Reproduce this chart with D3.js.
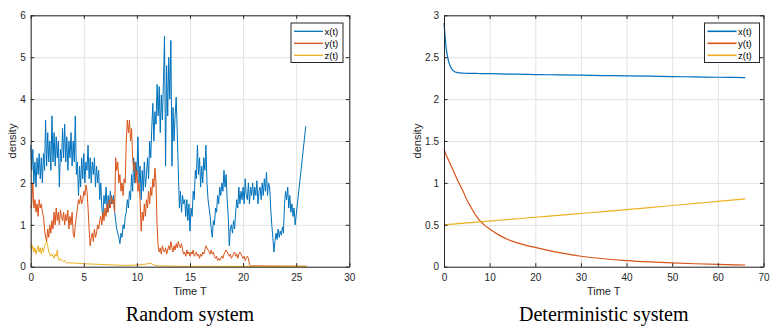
<!DOCTYPE html>
<html>
<head>
<script src="https://cdnjs.cloudflare.com/ajax/libs/d3/7.8.5/d3.min.js"></script>
<style>
  body { margin: 0; background: #fff; }
  svg { display: block; }
  .tick text { font-family: Arial, "Liberation Sans", sans-serif; font-size: 10px; fill: #262626; }
  .grid line { stroke: #e3e3e3; stroke-width: 1; }
  .grid path { display: none; }
  .frame path, .frame line { stroke: #262626; }
  .lbl { font-family: Arial, "Liberation Sans", sans-serif; font-size: 11px; fill: #262626; }
  .caption { font-family: "Liberation Serif", "Times New Roman", serif; font-size: 20px; fill: #000; }
  .legend text { font-family: Arial, "Liberation Sans", sans-serif; font-size: 9.5px; fill: #000; }
</style>
</head>
<body>
<div id="chart"></div>
<script>
// ---- data: random system (sampled every T_STEP from t = 0, then a few tail points) ----
const T_STEP = 0.1;
const xRand = [
  2.9, 2.3, 2.8, 2.0, 2.5, 1.9, 2.6, 2.2, 2.7, 2.1,
  2.6, 2.0, 2.7, 2.3, 3.5, 2.4, 3.2, 2.5, 3.0, 2.3,
  3.6, 2.5, 3.2, 2.4, 3.1, 2.6, 3.0, 1.9, 2.8, 2.5,
  3.3, 2.6, 3.4, 2.5, 3.1, 2.3, 3.0, 2.6, 3.2, 2.4,
  3.0, 2.5, 3.6, 2.2, 2.5, 1.7, 2.4, 1.9, 2.6, 2.1,
  2.7, 2.0, 2.5, 2.3, 2.9, 2.1, 2.6, 2.0, 2.5, 2.2,
  2.6, 1.9, 2.4, 2.0, 2.3, 1.6, 2.0, 1.4, 1.2, 1.7,
  1.5, 1.9, 1.3, 1.7, 1.4, 1.8, 1.5, 1.6, 1.7, 1.3,
  1.1, 0.9, 0.8, 0.7, 0.55, 0.8, 0.7, 1.0, 0.9, 1.2,
  1.3, 1.6, 1.4, 1.8, 1.6, 2.2, 1.8, 2.6, 2.0, 2.5,
  2.2, 3.1, 2.0, 2.4, 1.6, 2.3, 1.8, 2.5, 1.9, 2.2,
  2.6, 2.1, 3.0, 2.6, 3.3, 3.9, 3.0, 3.7, 3.4, 4.35,
  3.6, 4.3, 3.2, 4.1, 3.5, 4.4, 5.5, 2.4, 4.8, 3.6,
  5.0, 4.0, 5.4, 2.4, 3.8, 3.0, 3.6, 4.05, 3.2, 2.3,
  1.4, 1.8, 1.3, 1.7, 1.5, 1.6, 1.2, 1.6, 1.1, 1.5,
  0.85, 1.4, 1.2, 1.8, 1.6, 2.3, 2.1, 2.9, 2.2, 2.6,
  1.9, 2.4, 2.0, 2.6, 2.3, 2.9, 2.0, 1.6, 1.4, 1.2,
  0.9, 0.7, 1.1, 1.0, 1.4, 1.3, 1.7, 1.5, 1.9, 1.7,
  2.0, 1.8, 2.3, 1.9, 2.2, 1.6, 1.2, 0.5, 0.9, 1.0,
  0.8, 1.1, 0.9, 1.3, 1.6, 1.4, 1.9, 1.5, 1.8, 1.6,
  1.9, 1.5, 2.1, 1.7, 1.6, 2.0, 1.5, 1.9, 1.7, 2.0,
  1.6, 1.9, 1.7, 2.05, 1.5, 1.8, 1.9, 1.6, 2.0, 1.7,
  2.1, 1.8, 2.25, 1.7, 2.0, 1.9, 1.4, 1.0, 0.7, 0.35,
  0.6, 0.8, 0.65, 0.9, 0.7, 0.85, 0.75, 0.95, 0.8, 1.5,
  1.8, 1.6, 1.9, 1.4, 1.7, 1.3, 1.5, 1.2, 1.4, 1.0
];
const xRandTail = [[25.9, 3.35]];

const yRand = [
  1.4, 1.5, 2.0, 1.4, 1.6, 1.3, 1.5, 1.2, 1.6, 1.4,
  1.5, 1.3, 1.2, 0.9, 0.7, 0.6, 0.9, 0.7, 1.0, 0.8,
  1.1, 0.9, 1.3, 1.0, 1.4, 1.1, 1.3, 1.0, 1.35, 1.2,
  1.1, 1.3, 1.0, 1.25, 1.1, 1.35, 0.9, 1.2, 1.0, 1.3,
  0.8, 0.7, 1.0, 1.2, 1.4, 1.6, 1.5, 1.7, 1.5, 1.6,
  1.8, 1.7, 1.95, 1.8, 1.4, 0.9, 0.5, 0.7, 0.8, 0.6,
  0.9, 0.7, 0.8, 1.0, 0.9, 1.1, 1.2, 1.0, 1.3, 1.1,
  1.4, 1.2, 1.5, 1.3, 1.6, 1.4, 1.7, 1.5, 1.6, 1.3,
  2.6, 2.3, 2.5, 2.0, 2.2, 1.8, 2.0, 1.7, 2.1, 2.0,
  3.0, 3.5, 3.2, 3.5, 3.0, 3.3, 2.6, 2.3, 2.5, 2.0,
  2.3, 1.8, 2.0, 1.6, 0.85, 1.3, 1.1, 1.5, 1.2, 1.6,
  1.4, 1.8, 1.5, 1.9, 1.7, 2.1, 1.9, 2.35, 2.0, 1.0,
  0.5, 0.35, 0.45, 0.3, 0.5, 0.4, 0.35, 0.45, 0.3, 0.4,
  0.5, 0.4, 0.6, 0.45, 0.35, 0.5, 0.4, 0.55, 0.45, 0.6,
  0.5, 0.45, 0.55, 0.4, 0.3, 0.35, 0.25, 0.4, 0.3, 0.35,
  0.25, 0.35, 0.3, 0.4, 0.25, 0.3, 0.35, 0.25, 0.3, 0.2,
  0.3, 0.25, 0.35, 0.3, 0.4, 0.5, 0.45, 0.4, 0.35, 0.3,
  0.4, 0.3, 0.35, 0.25, 0.2, 0.25, 0.15, 0.2, 0.15, 0.2,
  0.25, 0.2, 0.3, 0.35, 0.4, 0.35, 0.3, 0.25, 0.3, 0.2,
  0.25, 0.3, 0.35, 0.25, 0.3, 0.2, 0.3, 0.35, 0.3, 0.25,
  0.2, 0.25, 0.15, 0.2, 0.25, 0.2, 0.05, 0.02, 0.02, 0.02
];
const yRandTail = [[23.0, 0.015], [26.0, 0.01]];

const zRand = [
  0.55, 0.4, 0.5, 0.35, 0.45, 0.3, 0.4, 0.5, 0.35, 0.45,
  0.3, 0.45, 0.35, 0.5, 0.55, 0.6, 0.5, 0.35, 0.3, 0.25,
  0.3, 0.25, 0.2, 0.3, 0.25, 0.4, 0.2, 0.15, 0.2, 0.15,
  0.15, 0.12, 0.15, 0.1, 0.08, 0.1, 0.09, 0.1, 0.08, 0.09
];
const zRandTail = [[5, 0.07], [6, 0.06], [7, 0.05], [8, 0.04], [9, 0.03], [10, 0.04],
  [10.8, 0.06], [11.3, 0.08], [11.6, 0.04], [12, 0.02], [14, 0.01], [26, 0.005]];

// ---- data: deterministic system ----
const tDet = [0, 0.5, 1, 1.5, 2, 3, 4, 5, 6, 7, 8, 9, 10, 12, 14, 16, 18, 20, 25, 30, 35, 40, 45, 50, 55, 60, 66];
const xDet = [2.91, 2.60, 2.45, 2.38, 2.34, 2.315, 2.31, 2.308, 2.307, 2.306, 2.305, 2.304, 2.303, 2.301,
  2.299, 2.297, 2.295, 2.293, 2.289, 2.285, 2.281, 2.277, 2.273, 2.269, 2.265, 2.261, 2.256];
const yDet = [1.40, 1.33, 1.27, 1.21, 1.15, 1.03, 0.92, 0.80, 0.70, 0.61, 0.54, 0.49, 0.45, 0.38,
  0.325, 0.285, 0.255, 0.23, 0.17, 0.125, 0.095, 0.073, 0.057, 0.045, 0.035, 0.027, 0.02];
const zDet = [0.50, 0.502, 0.505, 0.507, 0.509, 0.514, 0.518, 0.523, 0.527, 0.532, 0.536, 0.541, 0.545,
  0.554, 0.563, 0.572, 0.581, 0.59, 0.612, 0.635, 0.658, 0.681, 0.705, 0.73, 0.755, 0.78, 0.81];

const seriesNames = ["x(t)", "y(t)", "z(t)"];
const colors = ["#0072BD", "#D95319", "#EDB120"];
const xTicksRand = [0, 5, 10, 15, 20, 25, 30];
const yTicksRand = [0, 1, 2, 3, 4, 5, 6];
const xTicksDet = [0, 10, 20, 30, 40, 50, 60, 70];
const yTicksDet = [0, 0.5, 1, 1.5, 2, 2.5, 3];

const width = 778, height = 330;
const svg = d3.select("#chart").append("svg")
  .attr("width", width).attr("height", height);

function sampled(values, tail) {
  return values.map((v, i) => [i * T_STEP, v]).concat(tail);
}

function drawPanel(opt) {
  const { left, right, top, bottom } = opt;
  const w = right - left, h = bottom - top;
  const g = svg.append("g").attr("transform", `translate(${left},${top})`);
  const x = d3.scaleLinear().domain(opt.xDomain).range([0, w]);
  const y = d3.scaleLinear().domain(opt.yDomain).range([h, 0]);

  // grid
  g.append("g").attr("class", "grid").attr("transform", `translate(0,${h})`)
    .call(d3.axisBottom(x).tickValues(opt.xTicks).tickSize(-h).tickFormat(""));
  g.append("g").attr("class", "grid")
    .call(d3.axisLeft(y).tickValues(opt.yTicks).tickSize(-w).tickFormat(""));

  // lines
  const line = d3.line().x(d => x(d[0])).y(d => y(d[1]));
  if (opt.curve) line.curve(opt.curve);
  opt.series.forEach((s, i) => {
    g.append("path").datum(s)
      .attr("fill", "none")
      .attr("stroke", colors[i])
      .attr("stroke-width", opt.lineWidth)
      .attr("stroke-linejoin", "round")
      .attr("d", line);
  });

  // frame with inward ticks on all four sides
  const fmt = d3.format("~g");
  g.append("g").attr("class", "frame").attr("transform", `translate(0,${h})`)
    .call(d3.axisBottom(x).tickValues(opt.xTicks).tickSizeInner(-3.5).tickSizeOuter(0).tickPadding(7).tickFormat(fmt));
  g.append("g").attr("class", "frame")
    .call(d3.axisLeft(y).tickValues(opt.yTicks).tickSizeInner(-3.5).tickSizeOuter(0).tickPadding(5).tickFormat(fmt));
  g.append("g").attr("class", "frame")
    .call(d3.axisTop(x).tickValues(opt.xTicks).tickSizeInner(-3.5).tickSizeOuter(0).tickFormat(""));
  g.append("g").attr("class", "frame").attr("transform", `translate(${w},0)`)
    .call(d3.axisRight(y).tickValues(opt.yTicks).tickSizeInner(-3.5).tickSizeOuter(0).tickFormat(""));

  // axis labels
  g.append("text").attr("class", "lbl")
    .attr("x", w / 2).attr("y", h + 28)
    .attr("text-anchor", "middle").text("Time T");
  g.append("text").attr("class", "lbl")
    .attr("transform", `translate(${opt.yLabelX - left},${h / 2}) rotate(-90)`)
    .attr("text-anchor", "middle").text("density");

  // legend
  const lg = g.append("g").attr("class", "legend")
    .attr("transform", `translate(${opt.legendX - left},${23 - top})`);
  lg.append("rect").attr("width", opt.legendW).attr("height", 39.5)
    .attr("fill", "#fff").attr("stroke", "#262626").attr("stroke-width", 1);
  seriesNames.forEach((name, i) => {
    const ly = 8.3 + i * 12;
    lg.append("line").attr("x1", 3).attr("x2", 32).attr("y1", ly).attr("y2", ly)
      .attr("stroke", colors[i]).attr("stroke-width", opt.legendLineWidth);
    lg.append("text").attr("x", 33.5).attr("y", ly + 3.4).text(name);
  });

  // caption
  svg.append("text").attr("class", "caption")
    .attr("x", left + w / 2).attr("y", 320.5)
    .attr("text-anchor", "middle").text(opt.caption);
}

drawPanel({
  left: 30.7, right: 349.3, top: 15.3, bottom: 266.7,
  xDomain: [0, 30], yDomain: [0, 6],
  xTicks: xTicksRand, yTicks: yTicksRand,
  series: [sampled(xRand, xRandTail), sampled(yRand, yRandTail), sampled(zRand, zRandTail)],
  lineWidth: 1, legendLineWidth: 1.3,
  yLabelX: 15.5, legendX: 291, legendW: 52,
  caption: "Random system"
});

drawPanel({
  left: 444, right: 763.5, top: 15.3, bottom: 266.7,
  xDomain: [0, 70], yDomain: [0, 3],
  xTicks: xTicksDet, yTicks: yTicksDet,
  series: [tDet.map((t, i) => [t, xDet[i]]), tDet.map((t, i) => [t, yDet[i]]), tDet.map((t, i) => [t, zDet[i]])],
  curve: d3.curveMonotoneX,
  lineWidth: 1.2, legendLineWidth: 1.6,
  yLabelX: 420.5, legendX: 704.5, legendW: 55,
  caption: "Deterministic system"
});
</script>
</body>
</html>
